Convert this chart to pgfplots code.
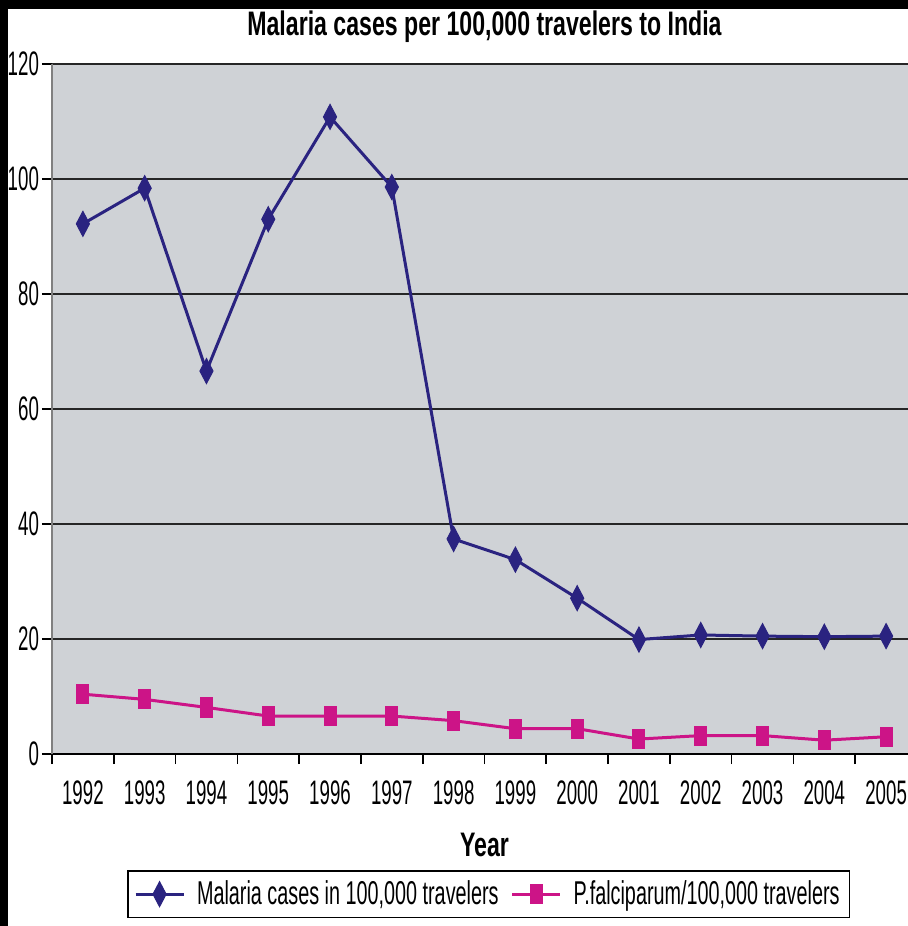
\documentclass[border=0pt]{standalone}
\usepackage{pgfplots}
\pgfplotsset{compat=1.18}
\usepackage{fontspec}
\setmainfont{Liberation Sans}[FakeStretch=0.6,BoldFeatures={FakeStretch=0.68}]
\newfontfamily\tickfont{Liberation Sans}[FakeStretch=0.55]
\definecolor{navyline}{RGB}{42,35,128}
\definecolor{pinkline}{RGB}{204,20,135}
\definecolor{plotbg}{RGB}{207,210,214}
\begin{document}
\begin{tikzpicture}[x=1pt,y=1pt]
\path[use as bounding box, clip] (0,0) rectangle (454,463);
\fill[white] (0,0) rectangle (454,463);
\begin{axis}[
  at={(26pt,86pt)}, anchor=south west,
  width=432.5pt, height=345pt, scale only axis,
  axis background/.style={fill=plotbg},
  xmin=-0.5, xmax=13.5, ymin=0, ymax=120,
  axis x line*=bottom, axis y line*=left,
  x axis line style={-, black, line width=1pt},
  y axis line style={-, gray, line width=0.6pt},
  xtick={0,...,13},
  xticklabels={1992,1993,1994,1995,1996,1997,1998,1999,2000,2001,2002,2003,2004,2005},
  major x tick style={draw=none},
  minor xtick={-0.5,0.5,...,13.5},
  minor x tick style={black, line width=0.8pt},
  minor tick length=5pt,
  major tick length=5pt,
  ytick={0,20,...,120},
  y tick style={black, line width=0.8pt},
  tick align=outside,
  ymajorgrids,
  major grid style={black!85, line width=1pt},
  /pgf/number format/assume math mode=true,
  yticklabel style={font=\tickfont\fontsize{17}{20}\selectfont, xshift=2pt},
  xticklabel style={font=\tickfont\fontsize{17}{20}\selectfont, yshift=-5pt},
  xlabel={Year},
  xlabel style={font=\bfseries\fontsize{17}{19}\selectfont, at={(axis description cs:0.5,-0.132)}, anchor=center},
  legend columns=2,
  legend style={at={(axis description cs:0.505,-0.168)}, anchor=north, draw=black, line width=0.8pt,
    font=\fontsize{16.5}{19}\selectfont, inner sep=3pt, column sep=4pt},
  legend image code/.code={\draw[mark repeat=2,mark phase=2,#1] plot coordinates {(0pt,0pt) (12pt,0pt) (24pt,0pt)};},
]
\addplot[navyline, line width=1.5pt, mark=diamond*, mark size=6.25pt, mark options={xscale=0.7, line width=0.5pt, fill=navyline}]
coordinates {(0,92.2) (1,98.4) (2,66.6) (3,93.0) (4,110.8) (5,98.6) (6,37.4) (7,33.8) (8,27.1) (9,19.9) (10,20.7) (11,20.5) (12,20.4) (13,20.5)};
\addlegendentry{Malaria cases in 100,000 travelers}
\addplot[pinkline, line width=1.5pt, mark=square*, mark size=3pt, mark options={yscale=1.6, line width=0.5pt, fill=pinkline}]
coordinates {(0,10.4) (1,9.5) (2,8.1) (3,6.6) (4,6.6) (5,6.6) (6,5.8) (7,4.4) (8,4.4) (9,2.6) (10,3.2) (11,3.2) (12,2.4) (13,3.0)};
\addlegendentry{P.falciparum/100,000 travelers}
\end{axis}
\node[font=\bfseries\fontsize{17}{19}\selectfont, anchor=center] at (242.25,449.5) {Malaria cases per 100,000 travelers to India};
\fill[black] (0,458.5) rectangle (454,463);
\fill[black] (0,0) rectangle (4,463);
\end{tikzpicture}
\end{document}
